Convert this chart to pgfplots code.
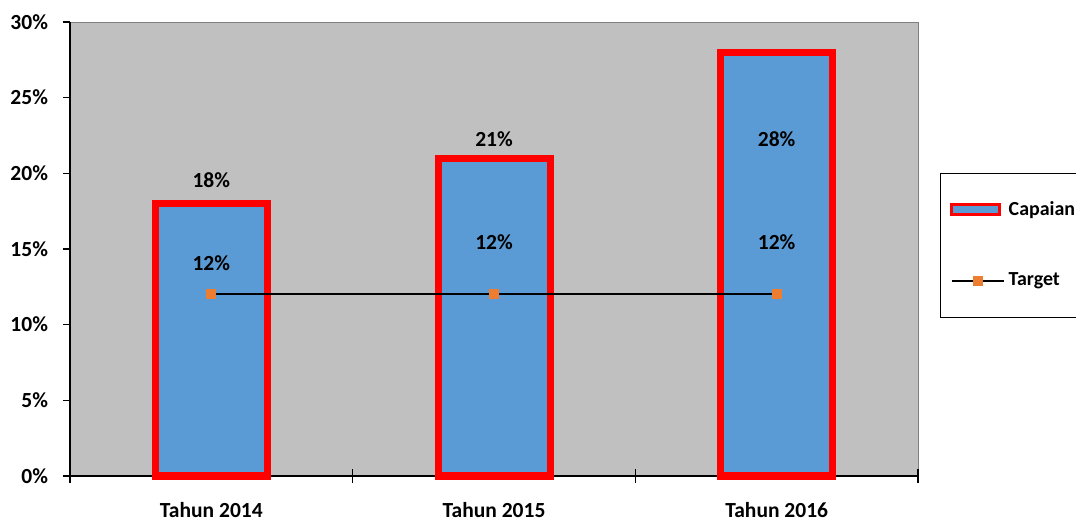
\documentclass[border=0pt]{standalone}
\usepackage{pgfplots}
\pgfplotsset{compat=1.18}
\usepackage{fontspec}
\setmainfont{Carlito}
\definecolor{bgray}{HTML}{C0C0C0}
\definecolor{barblue}{HTML}{5B9BD5}
\definecolor{mkorange}{HTML}{ED7D31}
\newcommand{\lblfont}{\bfseries\fontsize{10.8}{12}\selectfont}
\begin{document}
\begin{tikzpicture}
\begin{axis}[
  set layers,
  scale only axis, width=424bp, height=227bp,
  xmin=-0.5, xmax=2.5, ymin=0, ymax=30,
  clip=false,
  axis background/.style={fill=bgray, draw=gray},
  axis x line*=bottom, axis y line*=left,
  axis line style={black, line width=0.8bp},
  xtick={0,1,2}, xticklabels={Tahun 2014, Tahun 2015, Tahun 2016},
  major x tick style={draw=none},
  minor xtick={-0.5,0.5,1.5,2.5},
  minor tick length=7bp, xtick align=center,
  ytick={0,5,...,30}, ytick align=outside, major tick length=3.5bp,
  tick style={black, line width=0.8bp},
  yticklabel={\pgfmathprintnumber{\tick}\%},
  /pgf/number format/assume math mode=true,
  tick label style={font=\lblfont},
  x tick label style={yshift=-8bp},
  y tick label style={xshift=-4bp},
  legend style={at={(1.026,0.668)}, anchor=north west, draw=black, fill=white,
    font=\bfseries\fontsize{10}{12}\selectfont, row sep=23.5bp, inner xsep=5bp, inner ysep=12bp,
    cells={anchor=west}},
]
\addplot[ybar, bar width=56bp, fill=barblue, draw=red, line width=3.5bp,
  legend image code/.code={\draw[fill=barblue, draw=red, line width=1.2bp] (0bp,-2.5bp) rectangle (24bp,2.5bp);}]
  coordinates {(0,18) (1,21) (2,28)};
\addlegendentry{Capaian}
\addplot[black, line width=1bp, mark=square*, mark size=2bp, mark options={fill=mkorange, draw=mkorange},
  legend image code/.code={\draw[black, line width=1.1bp] (0bp,0bp) -- (26bp,0bp); \fill[mkorange] (11bp,-2bp) rectangle (15bp,2bp);}]
  coordinates {(0,12) (1,12) (2,12)};
\addlegendentry{Target}
\node[font=\lblfont] at (axis cs:0,19.56) {18\%};
\node[font=\lblfont] at (axis cs:1,22.27) {21\%};
\node[font=\lblfont] at (axis cs:2,22.27) {28\%};
\node[font=\lblfont] at (axis cs:0,14.08) {12\%};
\node[font=\lblfont] at (axis cs:1,15.47) {12\%};
\node[font=\lblfont] at (axis cs:2,15.47) {12\%};
\end{axis}
\pgfresetboundingbox
\useasboundingbox (-35bp,-22.5bp) rectangle (503bp,238bp);
\end{tikzpicture}
\end{document}
